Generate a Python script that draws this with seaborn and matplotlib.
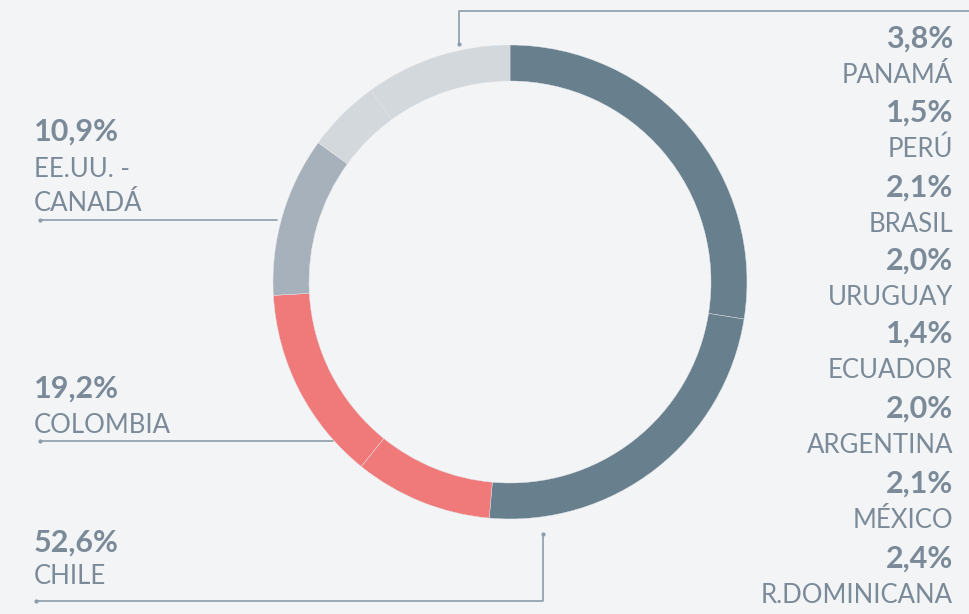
import matplotlib
matplotlib.use("Agg")
import matplotlib.pyplot as plt
import seaborn as sns

# ---- data ----
segment_values = [27.5, 23.9, 9.4, 13.3, 10.9, 5.0, 10.0]
segment_groups = ["CHILE", "CHILE", "COLOMBIA", "COLOMBIA", "EE.UU. - CANADÁ", "OTROS", "OTROS"]
group_colors = {"CHILE": "#687f8e", "COLOMBIA": "#f07a79",
                "EE.UU. - CANADÁ": "#a7b1bb", "OTROS": "#d3d8dc"}

right_pcts = ["3,8%", "1,5%", "2,1%", "2,0%", "1,4%", "2,0%", "2,1%", "2,4%"]
right_names = ["PANAMÁ", "PERÚ", "BRASIL", "URUGUAY", "ECUADOR", "ARGENTINA", "MÉXICO", "R.DOMINICANA"]

left_pcts = ["10,9%", "19,2%", "52,6%"]
left_names = ["EE.UU. -\nCANADÁ", "COLOMBIA", "CHILE"]

# ---- style ----
sns.set_theme(style="white")
plt.rcParams["font.family"] = ["Lato", "DejaVu Sans"]
BG = "#f3f4f6"
TXT = "#7b8a98"
LINE = "#8d9caa"

W, H = 969, 614
fig = plt.figure(figsize=(W / 100, H / 100), dpi=100, facecolor=BG)
ax = fig.add_axes([0, 0, 1, 1])
ax.set_facecolor(BG)

def Y(p):
    return H - p

colors = [group_colors[g] for g in segment_groups]
ax.pie(segment_values, colors=colors, startangle=90, counterclock=False,
       center=(510, Y(282)), radius=237, frame=True,
       wedgeprops=dict(width=36, edgecolor="#e4e7ea", linewidth=0.3))
ax.set_xlim(0, W)
ax.set_ylim(0, H)
ax.set_aspect("equal")
ax.axis("off")

PCT_FS = 22
NAME_FS = 18.5

# right labels
pct_base = [48, 122, 197, 270, 343, 418, 493, 568]
for i, (p, n) in enumerate(zip(right_pcts, right_names)):
    b = pct_base[i]
    ax.text(953, Y(b), p, ha="right", va="baseline", fontsize=PCT_FS,
            fontweight="bold", color=TXT)
    ax.text(953, Y(b + 35), n, ha="right", va="baseline", fontsize=NAME_FS,
            fontweight="normal", color=TXT)

# left labels
left_pct_base = [141, 398, 552]
left_name_base = [177, 433, 584]
for p, n, bp, bn in zip(left_pcts, left_names, left_pct_base, left_name_base):
    ax.text(34, Y(bp), p, ha="left", va="baseline", fontsize=PCT_FS,
            fontweight="bold", color=TXT)
    for k, t in enumerate(n.split("\n")):
        ax.text(34, Y(bn + 34 * k), t, ha="left", va="baseline",
                fontsize=NAME_FS, fontweight="normal", color=TXT)

# leader lines
lw = 1.2
ax.plot([40, 277], [Y(220), Y(220)], color=LINE, lw=lw)
ax.plot([40, 333], [Y(441), Y(441)], color=LINE, lw=lw)
ax.plot([36, 543, 543], [Y(601), Y(601), Y(534)], color=LINE, lw=lw)
ax.plot([459, 459, W], [Y(44), Y(11), Y(11)], color=LINE, lw=lw)
for x, y in [(40, 220), (40, 441), (36, 601), (459, 44), (543, 534)]:
    ax.plot([x], [Y(y)], "o", ms=2, color=LINE)

fig.savefig("out.png", dpi=100, facecolor=BG)
